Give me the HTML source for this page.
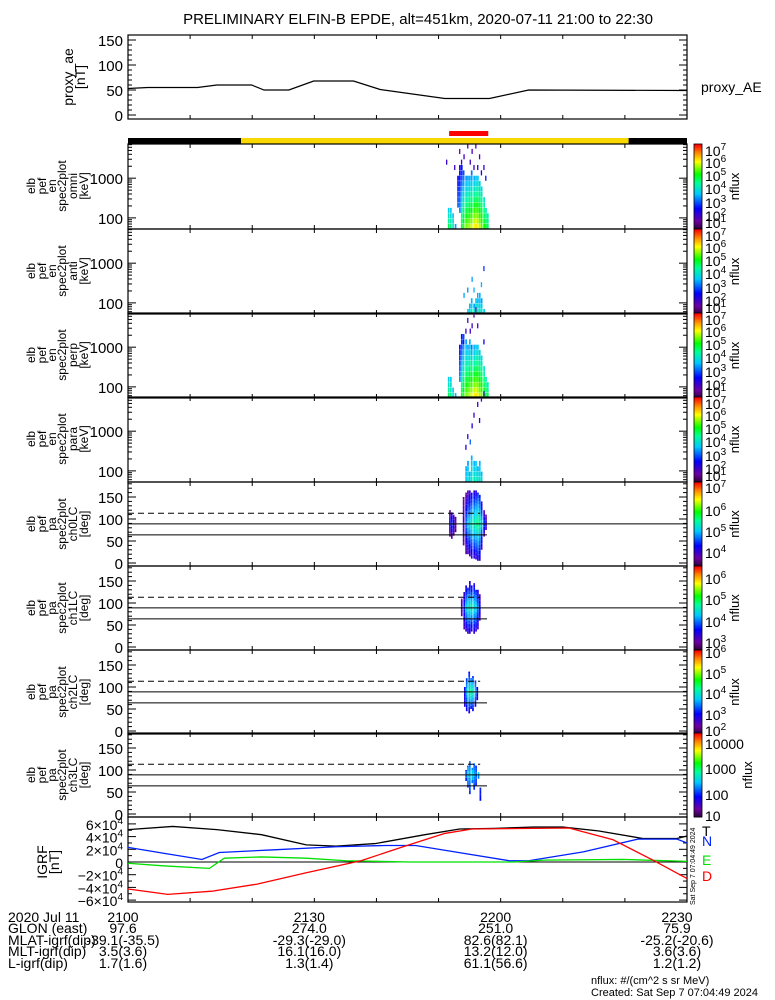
<!DOCTYPE html>
<html><head><meta charset="utf-8">
<style>
html,body{margin:0;padding:0;background:#fff;}
svg{display:block;font-family:"Liberation Sans",sans-serif;}
</style></head>
<body>
<svg id="fig" width="775" height="1000" viewBox="0 0 775 1000" xmlns="http://www.w3.org/2000/svg">
<rect x="0" y="0" width="775" height="1000" fill="#fff"/>
<text x="418" y="24" font-size="15" text-anchor="middle">PRELIMINARY ELFIN-B EPDE, alt=451km, 2020-07-11 21:00 to 22:30</text>
</svg>
<script>
// ---------- DATA ----------
const proxyT = [0,3.2,11.2,14.3,19.9,21.9,25.9,29.9,36.3,40.6,51,58.2,64.5,90];
const proxyV = [53,55,55,60,60,50,50,68,68,51,33,33,50,49];

const igrfT = [0,7.2,14.3,21.5,28.7,33.5,39.8,47.8,53.4,59,65.3,70,75.7,82.9,88.4,90];
const igrfTot = [5.1,5.6,5.1,4.3,2.7,2.5,2.9,4.3,5.2,5.3,5.5,5.5,4.9,3.7,3.7,4.1];
const igrfNT = [0,5.6,11.9,14.7,23.1,33.5,41.5,46.3,52.6,61.4,64.5,73.3,82.1,88.4,90];
const igrfN = [2.3,1.4,0.4,1.5,1.9,2.4,2.6,2.6,1.6,0.2,0.2,1.6,3.6,3.6,3.0];
const igrfET = [0,5.6,13.1,15.5,21.5,28.7,35.1,45.4,62.2,67,79.7,86.9,90];
const igrfE = [-0.2,-0.6,-1.0,0.6,0.8,0.6,0.2,0,0,0.3,0.4,0.2,0.1];
const igrfDT = [0,6.4,13.5,20.7,28.7,37.5,44.6,51,55.4,71,78.1,84.5,90];
const igrfD = [-4.25,-5.1,-4.6,-3.5,-1.7,0.2,2.5,4.5,5.2,5.35,3.5,0.3,-2.6];

const timeTicks = ['2100','2130','2200','2230'];
const glonVals = ['97.6','274.0','251.0','75.9'];
const mlatVals = ['-39.1(-35.5)','-29.3(-29.0)','82.6(82.1)','-25.2(-20.6)'];
const mltVals = ['3.5(3.6)','16.1(16.0)','13.2(12.0)','3.6(3.6)'];
const lVals = ['1.7(1.6)','1.3(1.4)','61.1(56.6)','1.2(1.2)'];

const omniT  = [51.5,51.85,52.2,52.6,53.0,53.3,53.6,53.9,54.3,54.6,54.9,55.2,55.6,55.9,56.2,56.5,56.8,57.2,57.5,57.8];
const omniLo = [0,0,0,0,4,3,0,0,0,0,0,0,0,0,0,0,0,0,0,0];
const omniHi = [3,3,2,0,9,11,11,10,9,9,9,10,9,9,9,8,7,5,3,2];
const omniFL = [4.7,4.5,4.2,3.5,3.2,3.4,4.8,5.2,5.4,5.5,5.6,5.7,5.9,6.0,5.8,5.6,5.3,5.0,4.8,4.6];
const omniFH = [3.8,3.8,3.7,3.5,2.7,2.6,2.8,3.1,3.5,3.5,3.6,3.3,3.6,3.7,3.8,3.8,3.9,4.1,4.2,4.3];
const omniSpT = [51.2,52.5,53.3,53.6,54.0,54.6,55.0,55.3,55.6,55.9,56.2,56.5,56.8,57.2,57.5];
const omniSpC = [12,11,14,12,13,15,12,14,11,15,11,13,10,11,9];
const omniSpF = [2.3,2.2,2.0,2.3,2.2,2.0,2.2,2.1,2.3,2.0,2.4,2.1,2.6,2.3,2.8];

const antT  = [54.6,54.9,55.2,55.6,55.9,56.2,56.5,56.8,57.2];
const antLo = [0,0,0,0,0,0,0,0,0];
const antHi = [0,1,2,1,2,2,3,2,0];
const antFL = [3.8,4.0,4.2,4.0,4.3,4.2,4.1,4.0,3.8];
const antFH = [3.6,3.6,3.6,3.5,3.7,3.6,3.6,3.5,3.6];
const antSpT = [54.0,54.6,55.3,55.6,56.8,57.2,56.2];
const antSpC = [3,4,6,4,5,8,3];
const antSpF = [3.5,3.4,3.5,3.6,3.6,3.0,3.5];

const perpT  = [51.5,51.85,52.2,52.6,53.3,53.6,53.9,54.3,54.6,54.9,55.2,55.6,55.9,56.2,56.5,56.8,57.2,57.5,57.8];
const perpLo = [0,0,0,0,3,0,0,0,0,0,0,0,0,0,0,0,0,0,0];
const perpHi = [3,3,1,0,9,11,11,10,9,10,9,9,9,9,8,7,5,3,2];
const perpFL = [4.7,4.5,4.2,3.6,3.4,4.8,5.2,5.4,5.5,5.7,5.8,5.9,6.0,5.8,5.6,5.4,5.0,4.8,4.6];
const perpFH = [3.8,3.8,3.7,3.6,2.7,2.8,3.1,3.5,3.5,3.6,3.3,3.6,3.7,3.8,3.8,3.9,4.1,4.2,4.3];
const perpSpT = [53.9,54.3,54.6,55.0,55.3,55.6,55.9,56.2,57.2];
const perpSpC = [10,12,14,12,13,15,16,13,10];
const perpSpF = [2.4,2.3,2.1,2.2,2.2,2.0,2.0,2.2,2.6];

const paraT  = [54.3,54.6,54.9,55.2,55.6,55.9,56.2,56.5,56.8];
const paraLo = [0,0,0,0,0,0,0,0,0];
const paraHi = [2,3,1,4,3,3,2,3,1];
const paraFL = [3.8,4.0,3.9,4.2,4.1,4.2,4.0,4.1,3.9];
const paraFH = [3.6,3.5,3.6,3.6,3.6,3.7,3.6,3.6,3.6];
const paraSpT = [54.3,54.6,55.3,55.6,56.2,56.5,56.8,57.2,55.0];
const paraSpC = [6,8,10,12,14,11,15,16,7];
const paraSpF = [2.4,2.3,2.5,2.2,2.3,2.4,2.2,2.4,3.2];

const pa0T = [51.7,52.0,52.3,52.6,53.9,54.3,54.6,54.9,55.2,55.6,55.9,56.2,56.5,56.8,57.2,57.5];
const pa0Lo = [60,55,62,70,40,20,20,15,10,10,8,5,5,30,60,75];
const pa0Hi = [120,115,110,105,150,160,165,165,160,165,165,160,155,140,120,110];
const pa0Core = [4.5,4.7,4.4,4.0,4.3,4.9,5.2,5.3,5.5,5.5,5.6,5.7,5.5,5.2,4.7,4.3];
const pa0Edge = [3.9,4.0,3.9,3.8,3.9,4.0,4.1,4.1,4.2,4.2,4.2,4.3,4.2,4.0,3.9,3.9];

const pa1T = [53.6,54.0,54.3,54.6,54.9,55.2,55.6,55.9,56.2,56.5];
const pa1Lo = [70,40,35,30,30,35,30,35,40,60];
const pa1Hi = [110,125,140,135,150,140,145,130,130,120];
const pa1Core = [3.4,3.8,4.4,4.6,4.7,4.6,4.5,4.4,4.0,3.6];
const pa1Edge = [3.1,3.2,3.3,3.3,3.3,3.3,3.3,3.3,3.2,3.1];

const pa2T = [54.1,54.4,54.8,55.1,55.4,55.8,56.1];
const pa2Lo = [55,45,40,50,45,55,70];
const pa2Hi = [100,120,135,120,125,115,100];
const pa2Core = [2.8,3.6,4.0,4.3,4.1,3.7,3.0];
const pa2Edge = [2.6,2.7,2.7,2.8,2.7,2.7,2.6];

const pa3T = [54.3,54.6,54.9,55.3,55.6,55.9,56.3,56.6];
const pa3Lo = [75,60,45,70,55,65,80,30];
const pa3Hi = [100,110,120,105,115,110,95,60];
const pa3Core = [2.2,2.5,2.4,2.6,2.3,2.1,2.5,2.0];
const pa3Edge = [1.8,1.9,1.9,2.0,1.9,1.8,2.0,1.8];

// ---------- HELPERS ----------
const NS = 'http://www.w3.org/2000/svg';
const svg = document.getElementById('fig');
const X0 = 128, X1 = 687;
const xs = m => X0 + m * (X1 - X0) / 90;
function mk(tag, attrs, parent) {
  const e = document.createElementNS(NS, tag);
  for (const k in attrs) e.setAttribute(k, attrs[k]);
  (parent || svg).appendChild(e);
  return e;
}
const stops = [[0,[40,0,50]],[0.1,[110,0,160]],[0.25,[0,0,255]],[0.42,[0,200,255]],[0.55,[0,255,150]],[0.65,[0,255,0]],[0.8,[255,255,0]],[0.9,[255,140,0]],[1,[255,0,0]]];
function cmap(n) {
  n = Math.max(0, Math.min(1, n));
  for (let i = 1; i < stops.length; i++) {
    if (n <= stops[i][0]) {
      const a = stops[i-1], b = stops[i], f = (n - a[0]) / (b[0] - a[0]);
      const c = a[1].map((v, j) => Math.round(v + (b[1][j] - v) * f));
      return 'rgb(' + c.join(',') + ')';
    }
  }
  return 'rgb(255,0,0)';
}
function txt(x, y, s, size, anchor, name, fill) {
  const t = mk('text', {x: x, y: y, 'font-size': size, 'text-anchor': anchor || 'start', fill: fill || '#000'});
  t.textContent = s;
  
  
  return t;
}
function vlabel(lines, xsPos, cy, size, name) {
  lines.forEach((s, i) => {
    const t = mk('text', {x: 0, y: 0, 'font-size': size, 'text-anchor': 'middle', transform: 'translate(' + xsPos[i] + ',' + cy + ') rotate(-90)'});
    t.textContent = s;
    
    
  });
}
function frame(top, bot, name) {
  const r = mk('rect', {x: X0, y: top, width: X1 - X0, height: bot - top, fill: 'none', stroke: '#000', 'stroke-width': 1.2});
  
  
  for (let m = 10; m < 90; m += 10) {
    const t1 = mk('line', {x1: xs(m), x2: xs(m), y1: bot, y2: bot - 4, stroke: '#000'});
    
    
    const t2 = mk('line', {x1: xs(m), x2: xs(m), y1: top, y2: top + 4, stroke: '#000'});
    
    
  }
}
function ytick(y, len) {
  const a = mk('line', {x1: X0, x2: X0 + len, y1: y, y2: y, stroke: '#000'});
  
  
  const b = mk('line', {x1: X1, x2: X1 - len, y1: y, y2: y, stroke: '#000'});
  
  
}
function colorbar(top, bot, labels, name) {
  const n = 60;
  for (let i = 0; i < n; i++) {
    const r = mk('rect', {x: 694, y: top + (bot - top) * i / n, width: 8, height: (bot - top) / n + 0.5, fill: cmap(1 - i / n)});
    
    
  }
  const f = mk('rect', {x: 694, y: top, width: 8, height: bot - top, fill: 'none', stroke: '#000', 'stroke-width': 0.8});
  
  
  labels.forEach(l => {
    const t = mk('text', {x: 705, y: top + l[1] + 6, 'font-size': 14});
    
    
    if (l[2]) { t.textContent = l[0]; }
    else {
      const a = mk('tspan', {}, t); a.textContent = '10';
      const b = mk('tspan', {dy: -6, 'font-size': 10}, t); b.textContent = l[0];
    }
  });
  const nf = mk('text', {x: 0, y: 0, 'font-size': 13, 'text-anchor': 'middle', transform: 'translate(' + (labels[0][2] ? 752 : 739) + ',' + ((top + bot) / 2) + ') rotate(-90)'});
  nf.textContent = 'nflux';
  
  
}

// ---------- PROXY AE PANEL ----------
const pTop = 35, pBot = 119;
const py = v => 115 - v * 0.5;
frame(pTop, pBot, 'proxy-ae-panel');
for (let v = 0; v <= 150; v += 10) ytick(py(v), v % 50 === 0 ? 8 : 4);
[0,50,100,150].forEach(v => txt(123, py(v) + 6, String(v), 15, 'end', 'y-tick-label'));
vlabel(['proxy_ae', '[nT]'], [73, 85], 77, 14, 'y-axis-title');
let pts = proxyT.map((t, i) => xs(t) + ',' + py(proxyV[i])).join(' ');
let pl = mk('polyline', {points: pts, fill: 'none', stroke: '#000', 'stroke-width': 1.2});


txt(701, 92, 'proxy_AE', 14, 'start', 'proxy-ae-legend');

// ---------- ORBIT BAR ----------
const orbitSeg = [[0, 18.2, '#000'], [18.2, 80.6, '#f8d800'], [80.6, 90, '#000']];
orbitSeg.forEach(s => {
  const r = mk('rect', {x: xs(s[0]), y: 138, width: xs(s[1]) - xs(s[0]), height: 6, fill: s[2]});
  
  
});
const sciZone = [51.7, 58.0];
let rb = mk('rect', {x: xs(sciZone[0]), y: 131, width: xs(sciZone[1]) - xs(sciZone[0]), height: 5, fill: '#f00'});



// ---------- SPECTROGRAMS ----------
const specTops = [144, 229, 313, 397];
const specNames = ['omni', 'anti', 'perp', 'para'];
const specData = [
  [omniT, omniLo, omniHi, omniFL, omniFH, omniSpT, omniSpC, omniSpF],
  [antT, antLo, antHi, antFL, antFH, antSpT, antSpC, antSpF],
  [perpT, perpLo, perpHi, perpFL, perpFH, perpSpT, perpSpC, perpSpF],
  [paraT, paraLo, paraHi, paraFL, paraFH, paraSpT, paraSpC, paraSpF]
];
const specLabels = [['7',6],['6',18],['5',31],['4',44],['3',58],['2',71],['1',78]];
const colW = 1.7;
specTops.forEach((T, p) => {
  const B = T + 85;
  const ey = le => B - (le - 1.72) * 39.7;
  const chy = c => ey(1.72 + c * 0.135);
  const fn = f => (f - 1.3) / (7 - 1.3);
  const d = specData[p];
  d[0].forEach((t, i) => {
    for (let c = d[1][i]; c <= d[2][i]; c++) {
      const fr = d[2][i] === d[1][i] ? 0 : (c - d[1][i]) / (d[2][i] - d[1][i]);
      const f = d[3][i] + (d[4][i] - d[3][i]) * fr;
      const r = mk('rect', {x: xs(t), y: chy(c + 1) + 0.3, width: colW, height: chy(c) - chy(c + 1) - 0.3, fill: cmap(fn(f))});
      
      
    }
  });
  d[5].forEach((t, i) => {
    const c = d[6][i];
    const r = mk('rect', {x: xs(t), y: chy(c + 1) + 0.3, width: 1.3, height: chy(c) - chy(c + 1) - 0.3, fill: cmap(fn(d[7][i]))});
    
    
  });
  frame(T, B, 'spectrogram-' + specNames[p] + '-panel');
  for (let dec = 1; dec <= 3; dec++) for (let k = 1; k <= 9; k++) {
    const y = ey(dec + Math.log10(k));
    if (y > T && y < B) ytick(y, k === 1 ? 8 : 4);
  }
  txt(123, ey(3) + 6, '1000', 15, 'end', 'y-tick-label');
  txt(123, ey(2) + 6, '100', 15, 'end', 'y-tick-label');
  vlabel(['elb', 'pef', 'en', 'spec2plot', specNames[p], '[keV]'], [35, 46, 56, 66, 77, 88], T + 42, 12, 'y-axis-title');
  colorbar(T, B, specLabels, 'colorbar-' + specNames[p]);
});

// ---------- PITCH ANGLE PANELS ----------
const paTops = [482, 566, 650, 733];
const paNames = ['ch0LC', 'ch1LC', 'ch2LC', 'ch3LC'];
const paData = [
  [pa0T, pa0Lo, pa0Hi, pa0Core, pa0Edge],
  [pa1T, pa1Lo, pa1Hi, pa1Core, pa1Edge],
  [pa2T, pa2Lo, pa2Hi, pa2Core, pa2Edge],
  [pa3T, pa3Lo, pa3Hi, pa3Core, pa3Edge]
];
const paRange = [[3.6, 7.2], [2.65, 6.55], [1.8, 6.1], [0.93, 4.4]];
const paLabels = [
  [['7',5],['6',28],['5',49],['4',70]],
  [['6',12],['5',33],['4',55],['3',76]],
  [['6',2],['5',23],['4',43],['3',64],['2',80]],
  [['10000',10,1],['1000',35,1],['100',61,1],['10',82,1]]
];
const lossCone = [113, 89, 64];
paTops.forEach((T, p) => {
  const B = T + 84;
  const yy = v => T + 81 - v * 0.44;
  const rg = paRange[p];
  const fn = f => (f - rg[0]) / (rg[1] - rg[0]);
  const d = paData[p];
  d[0].forEach((t, i) => {
    for (let a = d[1][i]; a < d[2][i]; a += 7.5) {
      const mid = a + 3.75;
      const w = Math.min(1, Math.abs(mid - 90) / Math.max(1, Math.max(90 - d[1][i], d[2][i] - 90)));
      const f = d[3][i] + (d[4][i] - d[3][i]) * w;
      const r = mk('rect', {x: xs(t), y: yy(Math.min(a + 7.5, d[2][i])), width: colW, height: yy(a) - yy(Math.min(a + 7.5, d[2][i])), fill: cmap(fn(f))});
      
      
    }
  });
  const dl = mk('line', {x1: X0, x2: xs(56.7), y1: yy(lossCone[0]), y2: yy(lossCone[0]), stroke: '#000', 'stroke-dasharray': '6,4'});
  
  
  const l1 = mk('line', {x1: X0, x2: X1, y1: yy(lossCone[1]), y2: yy(lossCone[1]), stroke: '#000'});
  
  
  const l2 = mk('line', {x1: X0, x2: xs(57.8), y1: yy(lossCone[2]), y2: yy(lossCone[2]), stroke: '#000'});
  
  
  frame(T, B, 'pitch-angle-' + paNames[p] + '-panel');
  for (let v = 0; v <= 180; v += 10) ytick(yy(v), v % 50 === 0 ? 8 : 4);
  [0, 50, 100, 150].forEach(v => txt(123, yy(v) + 6, String(v), 15, 'end', 'y-tick-label'));
  vlabel(['elb', 'pef', 'pa', 'spec2plot', paNames[p], '[deg]'], [35, 46, 56, 66, 77, 88], T + 42, 12, 'y-axis-title');
  colorbar(T, B, paLabels[p], 'colorbar-' + paNames[p]);
});

// ---------- IGRF PANEL ----------
const gTop = 817, gBot = 902;
const gy = v => Math.max(gTop + 1, Math.min(gBot - 1, 862 - v * 6.35));
frame(gTop, gBot, 'igrf-panel');
for (let v = -6; v <= 6; v += 1) ytick(gy(v), v % 2 === 0 ? 8 : 4);
[6, 4, 2, 0, -2, -4, -6].forEach(v => {
  const t = mk('text', {x: 123, y: 862 - v * 6.35 + 6, 'font-size': 14, 'text-anchor': 'end'});
  
  
  if (v === 0) { t.textContent = '0'; }
  else {
    const a = mk('tspan', {}, t); a.textContent = (v < 0 ? '\u2212' : '') + Math.abs(v) + '\u00d710';
    const b = mk('tspan', {dy: -6, 'font-size': 10}, t); b.textContent = '4';
  }
});
const zl = mk('line', {x1: X0, x2: X1, y1: gy(0), y2: gy(0), stroke: '#000'});


vlabel(['IGRF', '[nT]'], [47, 59], 862, 14, 'y-axis-title');
const series = [[igrfT, igrfTot, '#000', 'igrf-total-line'], [igrfNT, igrfN, '#0020ff', 'igrf-north-line'], [igrfET, igrfE, '#00e000', 'igrf-east-line'], [igrfDT, igrfD, '#ff0000', 'igrf-down-line']];
series.forEach(s => {
  const l = mk('polyline', {points: s[0].map((t, i) => xs(t) + ',' + gy(s[1][i])).join(' '), fill: 'none', stroke: s[2], 'stroke-width': 1.3});
  
  
});
txt(702, 836, 'T', 14, 'start', 'legend-total');
txt(702, 846, 'N', 14, 'start', 'legend-north', '#0020ff');
txt(702, 865, 'E', 14, 'start', 'legend-east', '#00e000');
txt(702, 881, 'D', 14, 'start', 'legend-down', '#ff0000');
const stamp = mk('text', {x: 0, y: 0, 'font-size': 7, transform: 'translate(695,905) rotate(-90)'});
stamp.textContent = 'Sat Sep  7 07:04:49 2024';



// ---------- BOTTOM ANNOTATION ----------
const rowY = [922, 933, 945, 956, 968];
const rowNames = ['2020 Jul 11', 'GLON (east)', 'MLAT-igrf(dip)', 'MLT-igrf(dip)', 'L-igrf(dip)'];
rowNames.forEach((s, i) => txt(8, rowY[i], s, 14, 'start', 'row-label'));
const rows = [timeTicks, glonVals, mlatVals, mltVals, lVals];
rows.forEach((r, i) => r.forEach((s, j) => txt(xs(j * 30) - (j === 3 ? 10 : 5), rowY[i], s, 14, 'middle', i === 0 ? 'x-tick-label' : 'ephemeris-value')));
txt(591, 984, 'nflux: #/(cm^2 s sr MeV)', 11, 'start', 'units-note');
txt(591, 996, 'Created: Sat Sep  7 07:04:49 2024', 11, 'start', 'created-note');
</script>
</body></html>
